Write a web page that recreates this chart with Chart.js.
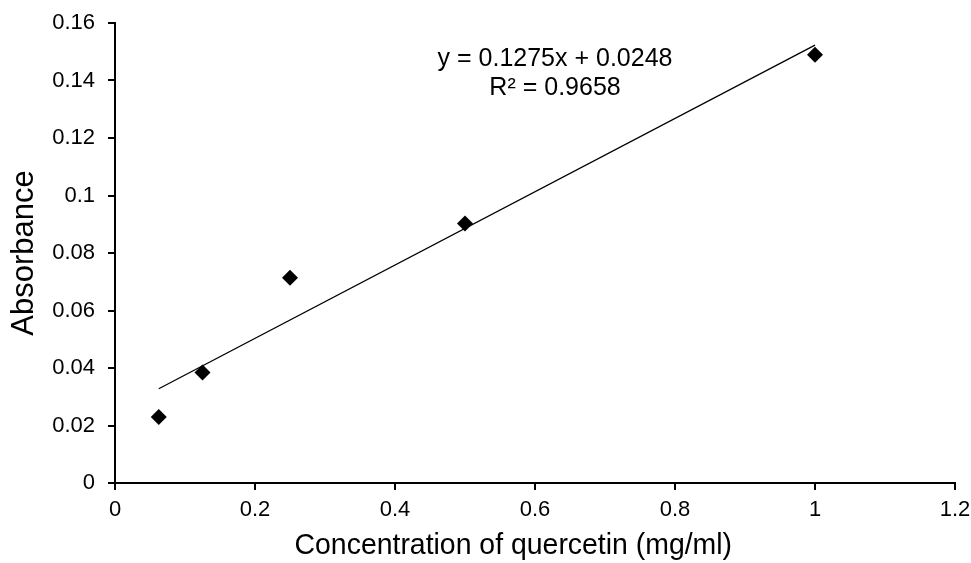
<!DOCTYPE html>
<html>
<head>
<meta charset="utf-8">
<script src="https://cdn.jsdelivr.net/npm/chart.js@4"></script>
<style>
  html, body { margin: 0; padding: 0; background: #fff; }
  #wrap { width: 971px; height: 563px; position: relative; }
</style>
</head>
<body>
<div id="wrap"><canvas id="myChart"></canvas></div>
<script>
const concentration = [0.0625, 0.125, 0.25, 0.5, 1];
const absorbance = [0.023, 0.0384, 0.0714, 0.0903, 0.149];
const xTicks = [0, 0.2, 0.4, 0.6, 0.8, 1, 1.2];
const yTicks = [0, 0.02, 0.04, 0.06, 0.08, 0.1, 0.12, 0.14, 0.16];
const slope = 0.1275;
const intercept = 0.0248;
const rSquared = 0.9658;
const xTitle = "Concentration of quercetin (mg/ml)";

const font = "'Liberation Sans', Arial, sans-serif";

const trend = [
  { x: concentration[0], y: slope * concentration[0] + intercept },
  { x: concentration[concentration.length - 1], y: slope * concentration[concentration.length - 1] + intercept },
];

// equation + x axis title (title sits left of the plot centre, right at the bottom edge)
const annotations = {
  id: "annotations",
  afterDatasetsDraw(chart) {
    const { ctx, scales } = chart;
    const cx = scales.x.getPixelForValue(0.6286);
    ctx.save();
    ctx.fillStyle = "#000";
    ctx.font = "25px " + font;
    ctx.textAlign = "center";
    ctx.textBaseline = "middle";
    ctx.fillText("y = " + slope + "x + " + intercept, cx, scales.y.getPixelForValue(0.1475));
    ctx.fillText("R² = " + rSquared, cx, scales.y.getPixelForValue(0.1374));
    ctx.font = "29px " + font;
    ctx.textBaseline = "alphabetic";
    ctx.translate(scales.x.getPixelForValue(0.569), chart.height - 9);
    ctx.scale(0.98, 1);
    ctx.fillText(xTitle, 0, 0);
    ctx.restore();
  },
};

const axisGrid = {
  drawOnChartArea: false,
  drawTicks: true,
  tickLength: 7,
  color: "#000",
  lineWidth: 2,
};

new Chart(document.getElementById("myChart"), {
  type: "scatter",
  data: {
    datasets: [
      {
        label: "Absorbance",
        data: concentration.map((x, i) => ({ x, y: absorbance[i] })),
        pointStyle: "rectRot",
        pointRadius: 8,
        pointHoverRadius: 8,
        backgroundColor: "#000",
        borderColor: "#000",
        borderWidth: 0,
      },
      {
        type: "line",
        label: "Linear",
        data: trend,
        borderColor: "#000",
        borderWidth: 1.3,
        pointRadius: 0,
        fill: false,
      },
    ],
  },
  options: {
    responsive: true,
    maintainAspectRatio: false,
    animation: false,
    layout: { autoPadding: false, padding: { top: 23, right: 16, left: 0, bottom: 0 } },
    plugins: {
      legend: { display: false },
      tooltip: { enabled: false },
    },
    scales: {
      x: {
        type: "linear",
        min: 0,
        max: 1.2,
        afterBuildTicks: (s) => { s.ticks = xTicks.map((v) => ({ value: v })); },
        afterFit: (s) => {
          s.height = 80;
          s.paddingLeft = 0;
          s.paddingRight = 0;
        },
        border: { color: "#000", width: 2 },
        grid: axisGrid,
        ticks: {
          color: "#000",
          font: { family: font, size: 22 },
          padding: 7,
          maxRotation: 0,
          callback: (v) => String(v),
        },
        title: { display: false },
      },
      y: {
        min: 0,
        max: 0.16,
        afterBuildTicks: (s) => { s.ticks = yTicks.map((v) => ({ value: v })); },
        afterFit: (s) => {
          s.width = 115;
          s.paddingTop = 0;
          s.paddingBottom = 0;
        },
        border: { color: "#000", width: 2 },
        grid: axisGrid,
        ticks: {
          color: "#000",
          font: { family: font, size: 22 },
          padding: 13,
          callback: (v) => String(v),
        },
        title: {
          display: true,
          text: "Absorbance",
          color: "#000",
          font: { family: font, size: 31 },
          padding: { top: 6, bottom: 0 },
        },
      },
    },
  },
  plugins: [annotations],
});
</script>
</body>
</html>
